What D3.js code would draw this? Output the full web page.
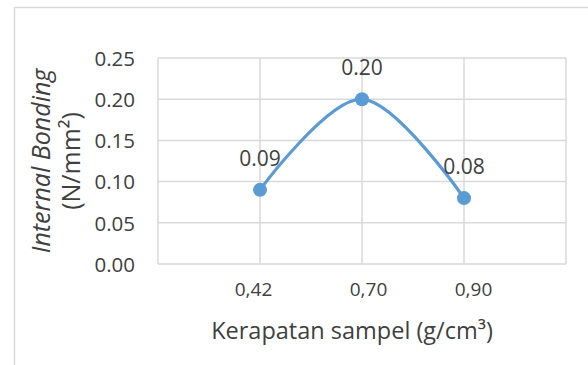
<!DOCTYPE html>
<html>
<head>
<meta charset="utf-8">
<script src="https://cdnjs.cloudflare.com/ajax/libs/d3/7.8.5/d3.min.js"></script>
<style>
  html, body { margin: 0; padding: 0; background: #fff; }
  svg { display: block; }
  text { font-family: "Open Sans", "DejaVu Sans", sans-serif; fill: #404040; }
</style>
</head>
<body>
<svg id="chart" width="588" height="365"></svg>
<script>
// ---- data ----
const categories = ["0,42", "0,70", "0,90"];
const values = [0.09, 0.20, 0.08];
const valueLabels = ["0.09", "0.20", "0.08"];
const yTicks = [0.00, 0.05, 0.10, 0.15, 0.20, 0.25];
const yTitleLines = ["Internal Bonding", "(N/mm²)"];
const xTitle = "Kerapatan sampel (g/cm³)";

// ---- layout ----
const W = 588, H = 365;
const plot = { left: 158, right: 566, top: 58, bottom: 264 };
const svg = d3.select("#chart");

// outer chart frame (extends beyond the window on right/bottom)
svg.append("rect")
  .attr("x", 14.5).attr("y", 7.5)
  .attr("width", W + 20).attr("height", H + 20)
  .attr("fill", "#fff").attr("stroke", "#d9d9d9").attr("stroke-width", 1.5);

const x = d3.scaleLinear().domain([0, categories.length + 1]).range([plot.left, plot.right]);
const y = d3.scaleLinear().domain([0, 0.25]).range([plot.bottom, plot.top]);

const g = svg.append("g");

// horizontal gridlines
g.selectAll("line.hgrid").data(yTicks).enter().append("line")
  .attr("class", "hgrid")
  .attr("x1", plot.left).attr("x2", plot.right)
  .attr("y1", d => y(d)).attr("y2", d => y(d))
  .attr("stroke", "#d9d9d9").attr("stroke-width", 1.5);

// vertical gridlines (including plot edges)
const xGrid = d3.range(0, categories.length + 2);
g.selectAll("line.vgrid").data(xGrid).enter().append("line")
  .attr("class", "vgrid")
  .attr("x1", d => x(d)).attr("x2", d => x(d))
  .attr("y1", plot.top).attr("y2", plot.bottom)
  .attr("stroke", "#d9d9d9").attr("stroke-width", 1.5);

// y axis tick labels
const yAxis = d3.axisLeft(y).tickValues(yTicks).tickFormat(d3.format(".2f")).tickSize(0).tickPadding(23);
const yAx = svg.append("g").attr("transform", `translate(${plot.left},0)`).call(yAxis);
yAx.select(".domain").remove();
yAx.selectAll("text").style("font-size", "20.5px").style("fill", "#404040")
  .style("font-family", '"Open Sans", sans-serif').attr("dy", "0.36em");

// x axis tick labels
const labelShift = [-7, 6, 9];
const xAxis = d3.axisBottom(x).tickValues(categories.map((c, i) => i + 1))
  .tickFormat((d) => categories[d - 1]).tickSize(0).tickPadding(19);
const xAx = svg.append("g").attr("transform", `translate(0,${plot.bottom})`).call(xAxis);
xAx.select(".domain").remove();
xAx.selectAll("text").style("font-size", "19px").style("fill", "#404040")
  .style("font-family", '"Open Sans", sans-serif')
  .attr("dx", (d, i) => labelShift[i]);

// line
const pts = values.map((v, i) => [x(i + 1), y(v)]);
svg.append("path")
  .attr("d", d3.line().curve(d3.curveCardinal.tension(0))(pts))
  .attr("fill", "none").attr("stroke", "#5b9bd5").attr("stroke-width", 3.2)
  .attr("stroke-linecap", "round");

// markers
svg.selectAll("circle.pt").data(values).enter().append("circle")
  .attr("class", "pt")
  .attr("cx", (d, i) => x(i + 1)).attr("cy", d => y(d)).attr("r", 7)
  .attr("fill", "#5b9bd5");

// data labels
svg.selectAll("text.dl").data(values).enter().append("text")
  .attr("class", "dl")
  .attr("x", (d, i) => x(i + 1)).attr("y", d => y(d) - 24)
  .attr("text-anchor", "middle").style("font-size", "21px")
  .text((d, i) => valueLabels[i]);

// x axis title
svg.append("text")
  .attr("x", 352).attr("y", 339)
  .attr("text-anchor", "middle").style("font-size", "23.5px")
  .text(xTitle);

// y axis title
const yt = svg.append("text")
  .attr("transform", `translate(0,${(plot.top + plot.bottom) / 2}) rotate(-90)`)
  .attr("text-anchor", "middle").style("font-size", "25px");
yt.append("tspan").attr("x", 0).attr("y", 50).style("font-style", "italic").text(yTitleLines[0]);
yt.append("tspan").attr("x", 0).attr("y", 80).text(yTitleLines[1]);
</script>
</body>
</html>
